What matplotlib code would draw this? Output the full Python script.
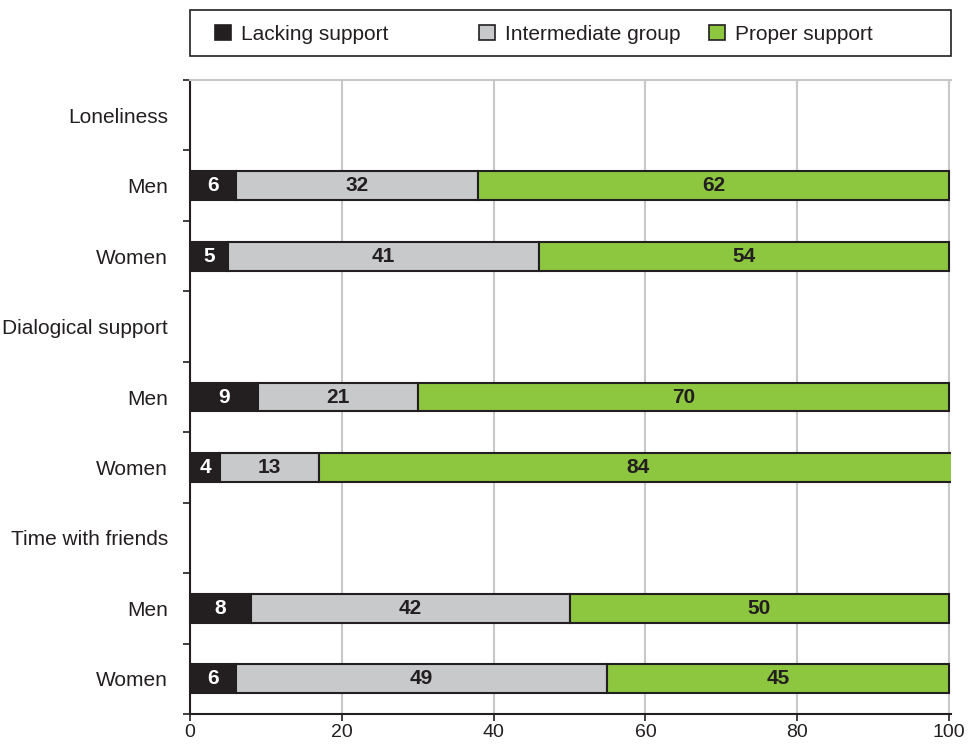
import matplotlib
matplotlib.use("Agg")
import matplotlib.pyplot as plt
from matplotlib.patches import Patch, Rectangle

plt.rcParams["font.family"] = ["Liberation Sans", "DejaVu Sans"]

row_labels = ["Loneliness", "Men", "Women", "Dialogical support", "Men", "Women",
              "Time with friends", "Men", "Women"]
bar_rows = [1, 2, 4, 5, 7, 8]
lacking = [6, 5, 9, 4, 8, 6]
intermediate = [32, 41, 21, 13, 42, 49]
proper = [62, 54, 70, 84, 50, 45]
series_names = ["Lacking support", "Intermediate group", "Proper support"]
colors = ["#231f20", "#c8c9cb", "#8dc63f"]
text_colors = ["white", "#231f20", "#231f20"]
dark = "#231f20"

W, H = 968, 746
fig = plt.figure(figsize=(W / 100, H / 100), dpi=100)
# x = 100 sits at pixel 949; the axes runs a little past it
x0, x100 = 190, 949
xmax = 100.3
ax = fig.add_axes([x0 / W, 1 - 714 / H, (x100 - x0) * xmax / 100 / W, (714 - 80) / H])

left = [0] * len(bar_rows)
for vals, c, tc in zip([lacking, intermediate, proper], colors, text_colors):
    ax.barh(bar_rows, vals, left=left, height=0.41, color=c,
            edgecolor=dark, linewidth=1.5, zorder=3)
    for y, l, v in zip(bar_rows, left, vals):
        ax.text(l + v / 2, y, str(v), ha="center", va="center", color=tc,
                fontsize=15, fontweight="bold", zorder=4)
    left = [l + v for l, v in zip(left, vals)]

ax.set_xlim(0, xmax)
ax.set_ylim(8.5, -0.5)
ax.set_xticks(range(0, 101, 20))
ax.tick_params(axis="x", labelsize=14, length=5, width=1.2, color=dark,
               labelcolor=dark, pad=2)
ax.set_yticks(range(len(row_labels)))
ax.set_yticklabels(row_labels)
ax.tick_params(axis="y", which="major", length=0, pad=16, labelsize=15,
               labelcolor=dark)
ax.set_yticks([i - 0.5 for i in range(len(row_labels) + 1)], minor=True)
ax.tick_params(axis="y", which="minor", length=5, width=1.2, color=dark)

ax.grid(axis="x", color="#c8c8c8", linewidth=1.5, zorder=0)
ax.set_axisbelow(True)
for s in ["left", "bottom"]:
    ax.spines[s].set_color(dark)
    ax.spines[s].set_linewidth(1.5)
ax.spines["top"].set_color("#c8c8c8")
ax.spines["top"].set_linewidth(1.5)
ax.spines["right"].set_visible(False)

# legend: frame plus three entries placed where the reference has them
fig.patches.append(Rectangle((190 / W, 1 - 56 / H), 761 / W, 46 / H,
                             transform=fig.transFigure, fill=False,
                             edgecolor=dark, linewidth=1.2))
entry_x = [215, 479, 709]
for name, c, ex in zip(series_names, colors, entry_x):
    fig.legend([Patch(facecolor=c, edgecolor=dark, linewidth=1.2)], [name],
               loc="center left", bbox_to_anchor=(ex / W, 1 - 34 / H),
               fontsize=15, frameon=False, handlelength=0.75, handleheight=0.75,
               handletextpad=0.5, borderpad=0, borderaxespad=0,
               labelcolor=dark)

fig.savefig("out.png", dpi=100)
